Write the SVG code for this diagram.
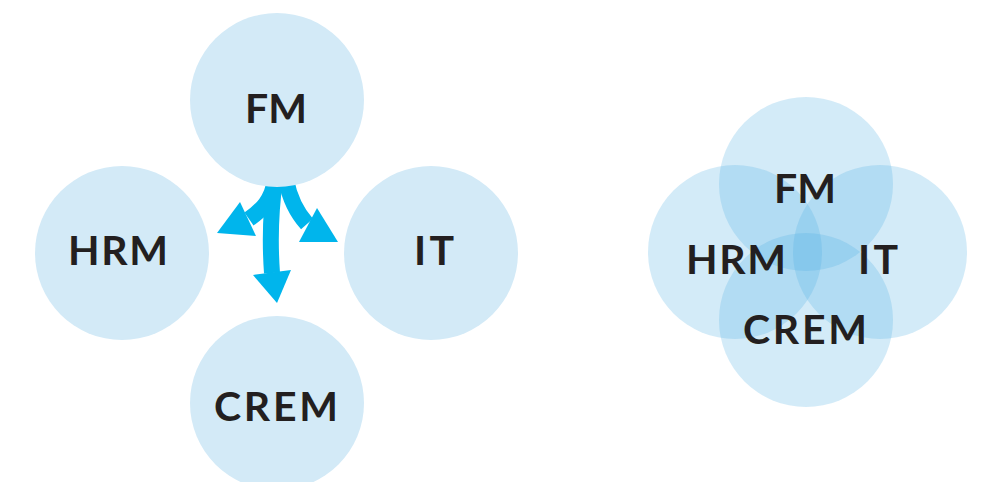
<svg xmlns="http://www.w3.org/2000/svg" width="982" height="482" viewBox="0 0 982 482">
<style>
.node{fill:#d3eaf7}
.venn{fill:rgb(79,175,227);fill-opacity:0.25}
.lbl{font-family:Lato,"Open Sans","Liberation Sans",sans-serif;font-weight:700;font-size:41px;fill:#231f20;text-anchor:middle}
.shaft{fill:none;stroke:#00b5ec;stroke-width:16;stroke-linecap:butt}
.head{fill:#00b5ec}
</style>
<rect width="982" height="482" fill="#ffffff"/>
<g id="connectors">
<path class="shaft" d="M275 180 C272 200 262 210 249 219"/>
<polygon class="head" points="240,202 217,233 256,236"/>
<path class="shaft" d="M286 180 C290 200 298 214 307 224"/>
<polygon class="head" points="317,208 338,242 299,242"/>
<path class="shaft" d="M275 180 C270 215 270 245 272 273"/>
<polygon class="head" points="253,275 291,270 277,303"/>
</g>
<g id="node-fm">
<circle class="node" cx="277" cy="100" r="87"/>
<text class="lbl" x="276" y="123" textLength="62" lengthAdjust="spacing">FM</text>
</g>
<g id="node-hrm">
<circle class="node" cx="122" cy="253" r="87"/>
<text class="lbl" x="118" y="265" textLength="100" lengthAdjust="spacing">HRM</text>
</g>
<g id="node-it">
<circle class="node" cx="431" cy="253" r="87"/>
<text class="lbl" x="434" y="265" textLength="40" lengthAdjust="spacing">IT</text>
</g>
<g id="node-crem">
<circle class="node" cx="277" cy="403" r="87"/>
<text class="lbl" x="276" y="421" textLength="124" lengthAdjust="spacing">CREM</text>
</g>
<g id="venn">
<g id="venn-fm"><circle class="venn" cx="806" cy="184" r="87"/></g>
<g id="venn-hrm"><circle class="venn" cx="735" cy="252" r="87"/></g>
<g id="venn-it"><circle class="venn" cx="880" cy="252" r="87"/></g>
<g id="venn-crem"><circle class="venn" cx="806" cy="320" r="87"/></g>
<text class="lbl" x="805" y="203" textLength="62" lengthAdjust="spacing">FM</text>
<text class="lbl" x="736" y="274" textLength="100" lengthAdjust="spacing">HRM</text>
<text class="lbl" x="878" y="274" textLength="40" lengthAdjust="spacing">IT</text>
<text class="lbl" x="805" y="344" textLength="124" lengthAdjust="spacing">CREM</text>
</g>
</svg>
